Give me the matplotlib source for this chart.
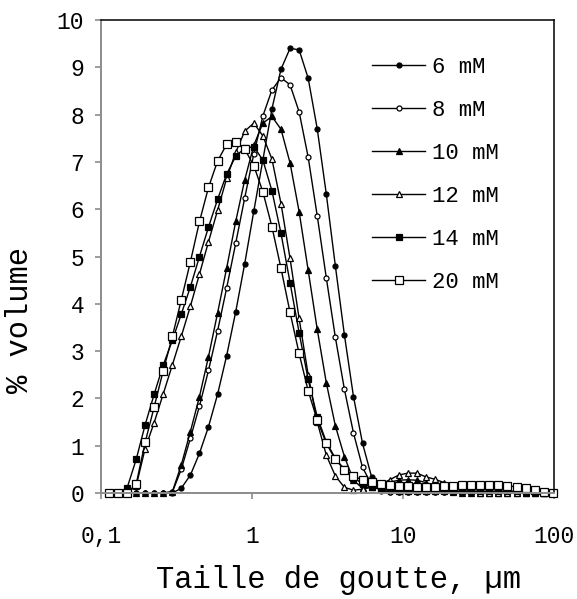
import matplotlib
matplotlib.use("Agg")
import matplotlib.pyplot as plt
from matplotlib.ticker import FixedLocator, NullLocator

plt.rcParams['font.family'] = ['Liberation Mono', 'DejaVu Sans Mono']

# droplet size bins, um
SIZE_UM = [0.113, 0.129, 0.149, 0.171, 0.196, 0.225, 0.258, 0.297, 0.340, 0.391,
           0.449, 0.515, 0.592, 0.679, 0.780, 0.895, 1.028, 1.180, 1.355, 1.556,
           1.786, 2.051, 2.355, 2.704, 3.105, 3.565, 4.093, 4.699, 5.395, 6.194,
           7.112, 8.166, 9.376, 10.77, 12.36, 14.19, 16.29, 18.71, 21.48, 24.66,
           28.31, 32.51, 37.33, 42.85, 49.20, 56.49, 64.86, 74.47, 85.51, 98.17]

VOL_6MM = [0, 0, 0, 0, 0, 0, 0, 0, 0.10, 0.38,
           0.84, 1.40, 2.09, 2.90, 3.83, 4.85, 5.96, 7.04, 8.12, 8.96,
           9.40, 9.37, 8.77, 7.70, 6.32, 4.80, 3.34, 2.04, 1.05, 0.34,
           0.05, 0.02, 0.02, 0.02, 0.02, 0.02, 0.02, 0.02, 0.02, 0.02,
           0.02, 0.02, 0.02, 0.02, 0.02, 0.02, 0.02, 0.02, 0.01, 0]
VOL_8MM = [0, 0, 0, 0, 0, 0, 0, 0.02, 0.50, 1.16,
           1.84, 2.59, 3.43, 4.33, 5.28, 6.24, 7.17, 7.97, 8.52, 8.78,
           8.63, 8.06, 7.10, 5.86, 4.55, 3.29, 2.19, 1.27, 0.54, 0.18,
           0.06, 0.03, 0.02, 0.02, 0.02, 0.02, 0.02, 0.02, 0.02, 0.02,
           0.02, 0.02, 0.02, 0.02, 0.02, 0.02, 0.02, 0.02, 0.01, 0]
VOL_10MM = [0, 0, 0, 0, 0, 0, 0, 0.03, 0.59, 1.30,
            2.04, 2.88, 3.81, 4.75, 5.74, 6.62, 7.35, 7.82, 7.96, 7.69,
            6.98, 5.95, 4.71, 3.46, 2.33, 1.42, 0.77, 0.27, 0.10, 0.14,
            0.19, 0.23, 0.27, 0.28, 0.27, 0.22, 0.15, 0.08, 0.03, 0.01,
            0, 0, 0, 0, 0, 0, 0, 0, 0, 0]
VOL_12MM = [0, 0, 0, 0.15, 0.94, 1.49, 2.09, 2.71, 3.31, 3.95,
            4.63, 5.31, 5.98, 6.65, 7.20, 7.65, 7.82, 7.55, 7.06, 6.12,
            4.96, 3.69, 2.50, 1.50, 0.80, 0.36, 0.12, 0.06, 0.08, 0.12,
            0.18, 0.28, 0.38, 0.42, 0.42, 0.34, 0.29, 0.22, 0.15, 0.09,
            0.04, 0.01, 0, 0, 0, 0, 0, 0, 0, 0]
VOL_14MM = [0, 0, 0.11, 0.71, 1.44, 2.09, 2.70, 3.23, 3.78, 4.36,
            5.00, 5.62, 6.21, 6.74, 7.12, 7.29, 7.32, 7.04, 6.39, 5.49,
            4.45, 3.39, 2.40, 1.61, 1.08, 0.73, 0.50, 0.32, 0.20, 0.12,
            0.08, 0.06, 0.05, 0.04, 0.04, 0.04, 0.04, 0.04, 0.04, 0.04,
            0.04, 0.04, 0.04, 0.04, 0.04, 0.04, 0.03, 0.02, 0.01, 0]
VOL_20MM = [0, 0, 0, 0.19, 1.07, 1.82, 2.58, 3.31, 4.08, 4.89,
            5.74, 6.46, 7.02, 7.37, 7.43, 7.27, 6.92, 6.37, 5.63, 4.75,
            3.82, 2.95, 2.16, 1.54, 1.05, 0.71, 0.49, 0.36, 0.27, 0.24,
            0.20, 0.17, 0.15, 0.14, 0.13, 0.13, 0.13, 0.14, 0.15, 0.16,
            0.16, 0.17, 0.17, 0.16, 0.15, 0.13, 0.10, 0.06, 0.03, 0.01]

LABELS = ["6 mM", "8 mM", "10 mM", "12 mM", "14 mM", "20 mM"]
X_TICKS = [0.1, 1, 10, 100]
X_TICK_LABELS = ["0,1", "1", "10", "100"]
Y_TICKS = list(range(0, 11))


def Main():
    fig = plt.figure(figsize=(5.77, 5.99), dpi=100)
    ax = fig.add_axes([101 / 577, 1 - 493 / 599, 453 / 577, 473 / 599])

    series = [VOL_6MM, VOL_8MM, VOL_10MM, VOL_12MM, VOL_14MM, VOL_20MM]
    styles = [('o', 'black', 3.6), ('o', 'white', 3.6), ('^', 'black', 4.2),
              ('^', 'white', 4.2), ('s', 'black', 3.8), ('s', 'white', 5.6)]
    for vals, label, (mk, face, ms) in zip(series, LABELS, styles):
        ax.plot(SIZE_UM, vals, color='black', lw=1.0, marker=mk, ms=ms,
                mfc=face, mec='black', mew=0.9, label=label, clip_on=False)

    ax.set_xscale('log')
    ax.set_xlim(0.1, 100)
    ax.set_ylim(0, 10)
    ax.xaxis.set_major_locator(FixedLocator(X_TICKS))
    ax.xaxis.set_minor_locator(NullLocator())
    ax.set_xticklabels(X_TICK_LABELS)
    ax.set_yticks(Y_TICKS)

    for side in ['left', 'bottom']:
        ax.spines[side].set_color('#8c8c8c')
        ax.spines[side].set_linewidth(1.4)
    for side in ['top', 'right']:
        ax.spines[side].set_color('black')
        ax.spines[side].set_linewidth(1.1)
    ax.tick_params(axis='both', direction='out', length=4, width=1.2,
                   color='#8c8c8c', labelsize=16.5)
    ax.tick_params(axis='x', pad=19)
    ax.tick_params(axis='y', pad=8)

    fig.text(339 / 577, 1 - 580 / 599, "Taille de goutte, µm", fontsize=22,
             ha='center', va='center')
    fig.text(20 / 577, 1 - 320 / 599, "% volume", fontsize=22, rotation=90,
             ha='center', va='center')

    ax.legend(loc='upper left', bbox_to_anchor=(372 / 577, 1 - 57 / 599),
              bbox_transform=fig.transFigure, frameon=False, fontsize=16,
              handlelength=2.4, handletextpad=0.3, labelspacing=0.99,
              borderpad=0, borderaxespad=0)

    fig.savefig("out.png", dpi=100)
    plt.close(fig)


if __name__ == "__main__":
    Main()
